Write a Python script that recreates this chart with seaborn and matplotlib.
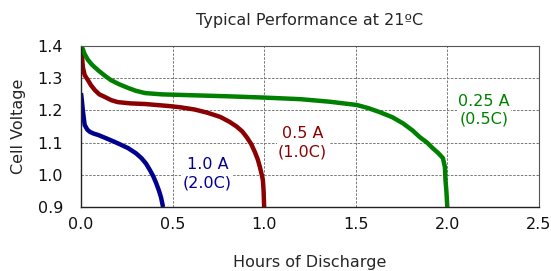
import matplotlib
matplotlib.use('Agg')
import matplotlib.pyplot as plt
import pandas as pd
import seaborn as sns

# discharge curves
hours_1a = [0.0, 0.005, 0.01, 0.02, 0.035, 0.05, 0.07, 0.093, 0.14, 0.185, 0.22, 0.257, 0.30, 0.33,
            0.355, 0.376, 0.395, 0.41, 0.425, 0.437, 0.448]
volts_1a = [1.254, 1.23, 1.20, 1.155, 1.14, 1.133, 1.128, 1.124, 1.113, 1.102, 1.093, 1.083, 1.067, 1.052,
            1.035, 1.015, 0.995, 0.975, 0.952, 0.93, 0.90]

hours_05a = [0.0, 0.005, 0.01, 0.02, 0.038, 0.055, 0.076, 0.10, 0.13, 0.165, 0.20, 0.27, 0.35, 0.475, 0.54,
             0.62, 0.69, 0.76, 0.81, 0.85, 0.88, 0.905, 0.93, 0.95, 0.965, 0.977, 0.987, 0.993, 0.997, 1.0]
volts_05a = [1.38, 1.372, 1.335, 1.31, 1.294, 1.278, 1.263, 1.25, 1.242, 1.232, 1.226, 1.222, 1.22, 1.214, 1.21,
             1.203, 1.193, 1.18, 1.165, 1.15, 1.135, 1.117, 1.095, 1.07, 1.048, 1.024, 1.0, 0.984, 0.95, 0.90]

hours_025a = [0.0, 0.005, 0.02, 0.038, 0.06, 0.093, 0.13, 0.164, 0.21, 0.257, 0.30, 0.35, 0.44, 0.62, 0.80,
              1.0, 1.2, 1.36, 1.506, 1.57, 1.63, 1.70, 1.758, 1.81, 1.85, 1.89, 1.92, 1.95, 1.976, 1.987,
              1.99, 1.995, 2.0]
volts_025a = [1.40, 1.398, 1.375, 1.357, 1.342, 1.325, 1.308, 1.294, 1.281, 1.270, 1.261, 1.254, 1.25, 1.247, 1.244,
              1.24, 1.235, 1.227, 1.217, 1.207, 1.195, 1.179, 1.16, 1.138, 1.117, 1.10, 1.083, 1.068, 1.052, 1.024,
              0.984, 0.95, 0.90]

series = ['1.0 A', '0.5 A', '0.25 A']
rates = ['(2.0C)', '(1.0C)', '(0.5C)']
colors = ['#000090', '#8B0000', '#008000']
label_x = [0.69, 1.21, 2.20]
label_y = [1.003, 1.10, 1.20]

df = pd.concat([
    pd.DataFrame({'hours': hours_1a, 'volts': volts_1a, 'series': '1.0 A'}),
    pd.DataFrame({'hours': hours_05a, 'volts': volts_05a, 'series': '0.5 A'}),
    pd.DataFrame({'hours': hours_025a, 'volts': volts_025a, 'series': '0.25 A'}),
])

sns.set_style('white')
fig = plt.figure(figsize=(5.51, 2.71), dpi=100)
ax = fig.add_axes([0.147, 0.236, 0.831, 0.594])

for s, c in zip(series, colors):
    d = df[df['series'] == s]
    sns.lineplot(data=d, x='hours', y='volts', sort=False, estimator=None, color=c, lw=3.2, ax=ax,
                 solid_capstyle='butt', solid_joinstyle='round')

for s, r, c, x, y in zip(series, rates, colors, label_x, label_y):
    ax.text(x, y, f'{s}\n{r}', color=c, fontsize=11.5, ha='center', va='center', linespacing=1.25,
            bbox=dict(facecolor='white', edgecolor='none', pad=1))

ax.set_xlim(0, 2.5)
ax.set_ylim(0.9, 1.4)
ax.set_xticks([0, 0.5, 1.0, 1.5, 2.0, 2.5])
ax.set_yticks([0.9, 1.0, 1.1, 1.2, 1.3, 1.4])
ax.xaxis.set_major_formatter(matplotlib.ticker.FormatStrFormatter('%.1f'))
ax.yaxis.set_major_formatter(matplotlib.ticker.FormatStrFormatter('%.1f'))
ax.grid(True, ls=(0, (2.5, 1.5)), color='#777777', lw=0.7)
ax.tick_params(length=0, labelsize=11.5, colors='#111111')
ax.tick_params(axis='x', pad=7)
ax.tick_params(axis='y', pad=13)
for sp in ['top', 'right']:
    ax.spines[sp].set_color('#555555')
    ax.spines[sp].set_linewidth(0.8)
for sp in ['left', 'bottom']:
    ax.spines[sp].set_color('#222222')
    ax.spines[sp].set_linewidth(1.0)

ax.set_xlabel('Hours of Discharge', fontsize=11.5, labelpad=17)
ax.set_ylabel('Cell Voltage', fontsize=11.5, labelpad=8)
ax.set_title('Typical Performance at 21ºC', fontsize=11.5, pad=15)

fig.savefig('out.png', dpi=100)
